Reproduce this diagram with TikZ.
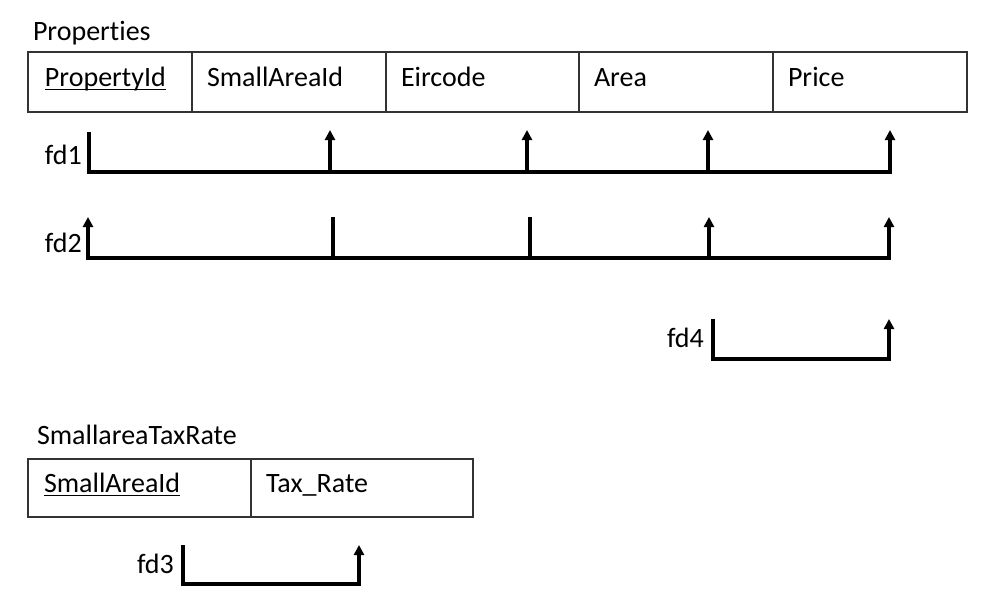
\documentclass[tikz,border=0pt]{standalone}
\usepackage{fontspec}
\setmainfont{Carlito}[Ligatures=NoCommon]
\usetikzlibrary{arrows.meta,calc}
\begin{document}
\begin{tikzpicture}[x=1pt,y=-1pt,
  cell/.style={draw=black!80, line width=1.8pt, anchor=north west, inner sep=0pt, outer sep=0pt},
  txt/.style={anchor=base west, inner sep=0pt, outer sep=0pt, font=\fontsize{28}{32}\selectfont},
  fdline/.style={line width=3.2pt, line join=miter},
  tip/.tip={Triangle[width=10pt,length=10pt]},
  fdarrow/.style={fdline, -tip}]
\useasboundingbox (0,0) rectangle (986,597);

% Properties table
\node[txt] (ptitle) at (33,40) {Properties};
\node[cell, minimum width=164pt, minimum height=60pt] (c1) at (28,52) {};
\node[cell, minimum width=194pt, minimum height=60pt] (c2) at (192,52) {};
\node[cell, minimum width=193pt, minimum height=60pt] (c3) at (386,52) {};
\node[cell, minimum width=194pt, minimum height=60pt] (c4) at (579,52) {};
\node[cell, minimum width=194pt, minimum height=60pt] (c5) at (773,52) {};
\node[txt] (t1) at (45,86) {PropertyId};
\node[txt] (t2) at (207,86) {SmallAreaId};
\node[txt] (t3) at (401,86) {Eircode};
\node[txt] (t4) at (594,86) {Area};
\node[txt] (t5) at (788,86) {Price};
\draw[line width=1.3pt] ($(t1.base west)+(0,3.5)$) -- ($(t1.base east)+(0,3.5)$);

% fd1
\node[txt] (fd1) at (45,164) {fd1};
\coordinate (f1a) at (89,132);
\coordinate (f1b) at (89,172);
\coordinate (f1c) at (890,172);
\coordinate (f1d) at (890,130);
\draw[fdarrow] (f1a) -- (f1b) -- (f1c) -- (f1d);
\coordinate (f1s2) at (330,172); \coordinate (f1e2) at (330,130);
\coordinate (f1s3) at (527,172); \coordinate (f1e3) at (527,130);
\coordinate (f1s4) at (708,172); \coordinate (f1e4) at (708,130);
\draw[fdarrow] (f1s2) -- (f1e2);
\draw[fdarrow] (f1s3) -- (f1e3);
\draw[fdarrow] (f1s4) -- (f1e4);

% fd2
\node[txt] (fd2) at (45,252) {fd2};
\coordinate (f2a) at (88,217);
\coordinate (f2b) at (88,258);
\coordinate (f2c) at (889,258);
\coordinate (f2d) at (889,217);
\draw[fdline, tip-tip] (f2a) -- (f2b) -- (f2c) -- (f2d);
\coordinate (f2s2) at (333,258); \coordinate (f2e2) at (333,217);
\coordinate (f2s3) at (530,258); \coordinate (f2e3) at (530,217);
\coordinate (f2s4) at (709,258); \coordinate (f2e4) at (709,217);
\draw[fdline] (f2s2) -- (f2e2);
\draw[fdline] (f2s3) -- (f2e3);
\draw[fdarrow] (f2s4) -- (f2e4);

% fd4
\node[txt] (fd4) at (667,347) {fd4};
\coordinate (f4a) at (713,319);
\coordinate (f4b) at (713,359);
\coordinate (f4c) at (889,359);
\coordinate (f4d) at (889,319);
\draw[fdarrow] (f4a) -- (f4b) -- (f4c) -- (f4d);

% SmallareaTaxRate table
\node[txt] (stitle) at (37,444) {SmallareaTaxRate};
\node[cell, minimum width=223pt, minimum height=58pt] (d1) at (28,459) {};
\node[cell, minimum width=222pt, minimum height=58pt] (d2) at (251,459) {};
\node[txt] (u1) at (44,492) {SmallAreaId};
\node[txt] (u2) at (266,492) {Tax\_Rate};
\draw[line width=1.3pt] ($(u1.base west)+(0,3.5)$) -- ($(u1.base east)+(0,3.5)$);

% fd3
\node[txt] (fd3) at (137,573) {fd3};
\coordinate (f3a) at (183,545);
\coordinate (f3b) at (183,584);
\coordinate (f3c) at (359,584);
\coordinate (f3d) at (359,545);
\draw[fdarrow] (f3a) -- (f3b) -- (f3c) -- (f3d);
\end{tikzpicture}
\end{document}
